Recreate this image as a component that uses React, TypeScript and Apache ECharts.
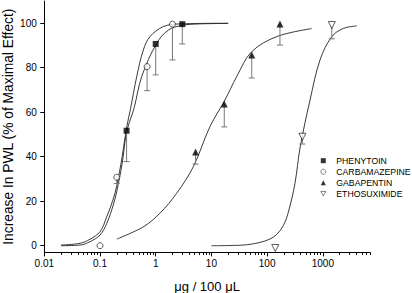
import React, { useEffect, useRef } from 'react';
import * as echarts from 'echarts';

// ---- axis ticks ----
const xTickValues = [0.01, 0.1, 1, 10, 100, 1000];
const xTickLabels = ['0.01', '0.1', '1', '10', '100', '1000'];
const xMinorTickValues = [
  0.02, 0.03, 0.04, 0.05, 0.06, 0.07, 0.08, 0.09,
  0.2, 0.3, 0.4, 0.5, 0.6, 0.7, 0.8, 0.9,
  2, 3, 4, 5, 6, 7, 8, 9,
  20, 30, 40, 50, 60, 70, 80, 90,
  200, 300, 400, 500, 600, 700, 800, 900,
  2000, 3000, 4000, 5000, 6000, 7000,
];
const yTickValues = [0, 20, 40, 60, 80, 100];
const xMin = 0.01;
const xMax = 7000;
const yMin = -3;
const yMax = 110;

// ---- measured points (dose, % effect, lower error bound) ----
const phenytoinDose = [0.3, 1, 3];
const phenytoinEffect = [51.7, 90.7, 99.6];
const phenytoinLower = [37.8, 76.8, 90.7];

const carbamazepineDose = [0.1, 0.2, 0.7, 2];
const carbamazepineEffect = [0, 30.8, 80.5, 99.6];
const carbamazepineLower = [null, 28, 69.7, 83.5];

const gabapentinDose = [5.2, 17, 53, 170];
const gabapentinEffect = [42.1, 63.7, 85.7, 99.7];
const gabapentinLower = [36.7, 53.4, 75.4, 90.2];

const ethosuximideDose = [140, 430, 1450];
const ethosuximideEffect = [-1, 49, 99.2];
const ethosuximideLower = [null, 45.7, 93];

// ---- fitted curves ----
const phenytoinCurve = [
  [0.02, 0], [0.044, 0.3], [0.066, 1.8], [0.1, 4.8], [0.132, 10], [0.173, 18.3],
  [0.2, 24.5], [0.25, 37], [0.3, 51], [0.41, 62], [0.56, 76], [1.04, 91],
  [1.68, 96.9], [2.9, 99], [6, 99.7], [20, 99.9],
];
const carbamazepineCurve = [
  [0.02, 0.3], [0.044, 1.1], [0.066, 2.9], [0.1, 6.3], [0.132, 13], [0.173, 21],
  [0.2, 27], [0.25, 40], [0.3, 53], [0.356, 62], [0.456, 76], [0.6, 88],
  [0.79, 94], [1.37, 98.5], [2.7, 99.7], [20, 100],
];
const gabapentinCurve = [
  [0.2, 3], [0.6, 8.5], [1.19, 14.6], [2.38, 23.6], [4.73, 35.5], [9.4, 53.5],
  [17.5, 65.5], [28.4, 76], [52.8, 87.2], [149, 94], [630, 97.6],
];
const ethosuximideCurve = [
  [10, 0], [37, 0.3], [75, 1.5], [112, 3], [148, 5], [195, 9], [240, 15],
  [316, 28], [390, 44], [590, 65.5], [890, 83.5], [1450, 94], [2350, 97.7], [4060, 98.8],
];

const FONT = "'Liberation Sans', Arial, sans-serif";
const lg = (v: number) => Math.log10(v);

function points(dose: number[], eff: number[]) {
  return dose.map((d, i) => [lg(d), eff[i]]);
}
function bars(dose: number[], eff: number[], low: (number | null)[]) {
  const out: number[][] = [];
  dose.forEach((d, i) => {
    const l = low[i];
    if (l !== null && l !== undefined) out.push([lg(d), eff[i], l]);
  });
  return out;
}
function curve(c: number[][]) {
  return c.map(([d, e]) => [lg(d), e]);
}

const errorRender = (params: any, api: any) => {
  const x = api.value(0);
  const y = api.value(1);
  const lo = api.value(2);
  const p1 = api.coord([x, y]);
  const p2 = api.coord([x, lo]);
  const st = { stroke: '#777', lineWidth: 1 };
  return {
    type: 'group',
    children: [
      { type: 'line', shape: { x1: p1[0], y1: p1[1], x2: p2[0], y2: p2[1] }, style: st },
      { type: 'line', shape: { x1: p2[0] - 3, y1: p2[1], x2: p2[0] + 3, y2: p2[1] }, style: st },
    ],
  };
};

export default function App() {
  const ref = useRef<HTMLDivElement>(null);
  useEffect(() => {
    if (!ref.current) return;
    const chart = echarts.init(ref.current, null, { renderer: 'svg' });
    const lineStyle = { color: '#222', width: 0.9 };
    const curveSeries = (data: number[][]) => ({
      type: 'line',
      data,
      smooth: 0.35,
      showSymbol: false,
      symbol: 'none',
      lineStyle,
      silent: true,
      z: 2,
    });
    const errSeries = (data: number[][]) => ({
      type: 'custom',
      renderItem: errorRender,
      data,
      z: 3,
      silent: true,
    });
    const openStyle = { color: '#fff', borderColor: '#000', borderWidth: 0.8 };
    const option: any = {
      animation: false,
      grid: { left: 44.3, right: 42.1, top: 1, bottom: 40.6, outerBoundsMode: 'none' },
      xAxis: [
        {
          type: 'value',
          position: 'bottom',
          min: lg(xMin),
          max: lg(xMax),
          splitLine: { show: false },
          axisLine: { onZero: false, lineStyle: { color: '#000', width: 1 } },
          axisTick: {
            show: true,
            inside: false,
            length: 4,
            lineStyle: { color: '#000' },
            customValues: xTickValues.map(lg),
          },
          axisLabel: {
            customValues: xTickValues.map(lg),
            formatter: (v: number) => {
              const i = xTickValues.findIndex((t) => Math.abs(lg(t) - v) < 1e-6);
              return i >= 0 ? xTickLabels[i] : '';
            },
            color: '#000',
            fontSize: 10,
            fontFamily: FONT,
            margin: 6,
          },
          name: 'μg / 100 μL',
          nameLocation: 'middle',
          nameGap: 28,
          nameMoveOverlap: false,
          nameTextStyle: { fontSize: 13, fontFamily: FONT, color: '#000' },
        },
        {
          type: 'value',
          position: 'bottom',
          min: lg(xMin),
          max: lg(xMax),
          splitLine: { show: false },
          axisLine: { show: false, onZero: false },
          axisTick: {
            show: true,
            inside: false,
            length: 2.5,
            lineStyle: { color: '#000' },
            customValues: xMinorTickValues.map(lg),
          },
          axisLabel: { show: false },
        },
      ],
      yAxis: {
        type: 'value',
        min: yMin,
        max: yMax,
        splitLine: { show: false },
        axisLine: { show: true, onZero: false, lineStyle: { color: '#000', width: 1 } },
        axisTick: { show: true, length: 4, lineStyle: { color: '#000' }, customValues: yTickValues },
        axisLabel: {
          customValues: yTickValues,
          color: '#000',
          fontSize: 10,
          fontFamily: FONT,
          margin: 7.5,
        },
        name: 'Increase In PWL (% of Maximal Effect)',
        nameLocation: 'middle',
        nameGap: 36,
        nameMoveOverlap: false,
        nameTextStyle: {
          fontSize: 13.8,
          fontFamily: FONT,
          color: '#000',
          align: 'center',
          verticalAlign: 'middle',
        },
      },
      legend: {
        data: [
          { name: 'PHENYTOIN', icon: 'rect', itemStyle: { color: '#000' } },
          { name: 'CARBAMAZEPINE', icon: 'circle', itemStyle: { ...openStyle, borderWidth: 0.6 } },
          { name: 'GABAPENTIN', icon: 'triangle', itemStyle: { color: '#000' } },
          { name: 'ETHOSUXIMIDE', icon: 'path://M0,0L10,0L5,9Z', itemStyle: { ...openStyle, borderWidth: 0.6 } },
        ],
        orient: 'vertical',
        left: 320.5,
        top: 155.2,
        itemWidth: 5,
        itemHeight: 5,
        itemGap: 0,
        padding: 0,
        textStyle: {
          fontSize: 8.7,
          fontFamily: FONT,
          color: '#000',
          lineHeight: 11,
          padding: [0, 0, 0, 5.5],
        },
      },
      series: [
        curveSeries(curve(carbamazepineCurve)),
        curveSeries(curve(phenytoinCurve)),
        curveSeries(curve(gabapentinCurve)),
        curveSeries(curve(ethosuximideCurve)),
        errSeries(bars(phenytoinDose, phenytoinEffect, phenytoinLower)),
        errSeries(bars(carbamazepineDose, carbamazepineEffect, carbamazepineLower)),
        errSeries(bars(gabapentinDose, gabapentinEffect, gabapentinLower)),
        errSeries(bars(ethosuximideDose, ethosuximideEffect, ethosuximideLower)),
        {
          name: 'PHENYTOIN',
          type: 'scatter',
          data: points(phenytoinDose, phenytoinEffect),
          symbol: 'rect',
          symbolSize: 6,
          itemStyle: { color: '#000' },
          z: 5,
        },
        {
          name: 'CARBAMAZEPINE',
          type: 'scatter',
          data: points(carbamazepineDose, carbamazepineEffect),
          symbol: 'circle',
          symbolSize: 6,
          itemStyle: openStyle,
          z: 5,
        },
        {
          name: 'GABAPENTIN',
          type: 'scatter',
          data: points(gabapentinDose, gabapentinEffect),
          symbol: 'triangle',
          symbolSize: 7,
          itemStyle: { color: '#000' },
          z: 5,
        },
        {
          name: 'ETHOSUXIMIDE',
          type: 'scatter',
          data: points(ethosuximideDose, ethosuximideEffect),
          symbol: 'triangle',
          symbolRotate: 180,
          symbolSize: 7,
          itemStyle: openStyle,
          z: 5,
        },
      ],
    };
    chart.setOption(option);
    return () => chart.dispose();
  }, []);
  return <div ref={ref} style={{ width: 412, height: 293, position: 'absolute', left: 0, top: 0 }} />;
}
